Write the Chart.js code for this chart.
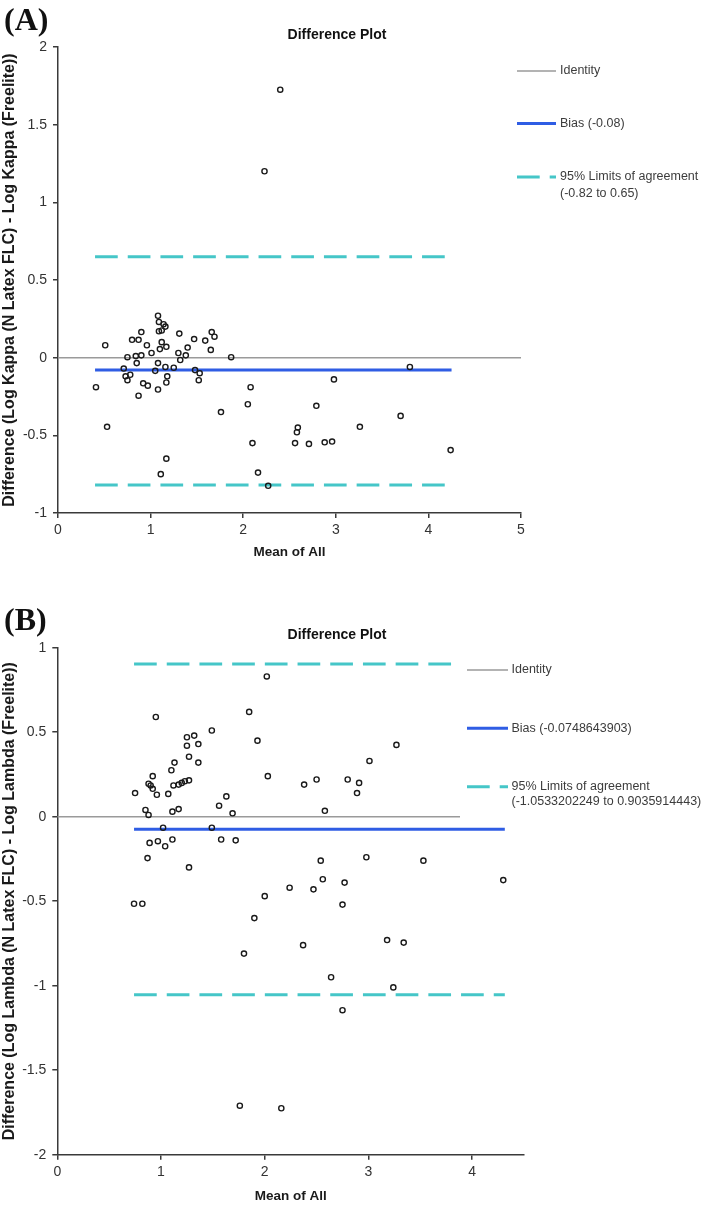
<!DOCTYPE html>
<html lang="en">
<head>
    <meta charset="UTF-8">
    <title>Difference Plots</title>
    <script src="https://cdn.jsdelivr.net/npm/chart.js@4"></script>
    <style>
        body { margin: 0; background: #fff; }
        #wrap { position: relative; width: 709px; height: 1206px; }
        #wrap canvas { position: absolute; left: 0; }
        .tag {
            position: absolute;
            left: 4px;
            font: bold 32px "Liberation Serif", "Times New Roman", serif;
            line-height: 1;
            color: #111;
        }
    </style>
</head>
<body>
<div id="wrap">
    <canvas id="chartA" width="709" height="600" style="top:0"></canvas>
    <canvas id="chartB" width="709" height="606" style="top:600px"></canvas>
    <div class="tag" style="top:3px">(A)</div>
    <div class="tag" style="top:603px">(B)</div>
</div>

<script>
    // ---- panel A : kappa ----
    const kappaMean = [0.51, 0.41, 1.08, 1.09, 1.14, 1.16, 1.12, 1.09, 0.90, 0.80, 0.87, 0.96, 1.12, 1.17, 1.10, 1.01,
        1.31, 1.47, 1.59, 1.66, 1.69, 1.65, 1.40, 1.30, 1.38, 1.32, 0.75, 0.84, 0.90, 0.85, 1.08, 0.71,
        1.05, 1.16, 1.25, 1.48, 1.53, 1.52, 1.18, 1.17, 0.73, 0.78, 0.75, 0.92, 0.97, 1.08, 0.87, 1.87,
        1.76, 2.08, 2.05, 2.79, 2.98, 3.80, 3.70, 2.59, 2.58, 3.26, 0.53, 2.10, 2.56, 2.71, 2.88, 2.96,
        4.24, 1.17, 1.11, 2.16, 2.27, 2.40, 2.23];
    const kappaDiff = [0.08, -0.19, 0.27, 0.23, 0.215, 0.20, 0.175, 0.17, 0.165, 0.115, 0.115, 0.08, 0.10, 0.07, 0.055, 0.03,
        0.155, 0.12, 0.11, 0.165, 0.135, 0.05, 0.065, 0.03, 0.015, -0.015, 0.003, 0.01, 0.015, -0.035, -0.035, -0.07,
        -0.085, -0.06, -0.065, -0.08, -0.10, -0.145, -0.12, -0.16, -0.12, -0.11, -0.145, -0.165, -0.18, -0.205, -0.245, 0.003,
        -0.35, -0.19, -0.30, -0.31, -0.14, -0.06, -0.375, -0.45, -0.48, -0.445, -0.445, -0.55, -0.55, -0.555, -0.545, -0.54,
        -0.595, -0.65, -0.75, -0.74, -0.825, 1.725, 1.20];
    const kappaBias = -0.08;
    const kappaLimits = [-0.82, 0.65];
    const kappaLineSpan = [0.40, 4.25];
    const kappaXRange = [0, 5];
    const kappaYRange = [-1, 2];

    // ---- panel B : lambda ----
    const lambdaMean = [2.02, 1.85, 0.95, 1.93, 1.49, 1.25, 1.32, 1.25, 1.36, 1.27, 1.36, 1.13, 1.10, 0.92, 0.88, 0.90,
        0.92, 0.96, 0.75, 1.07, 1.12, 1.17, 1.20, 1.23, 1.27, 2.03, 2.38, 1.63, 1.56, 1.69, 0.85, 0.88,
        1.11, 1.17, 1.02, 1.49, 0.89, 0.97, 1.04, 1.11, 1.58, 1.72, 0.87, 1.27, 3.27, 3.01, 2.50, 2.80,
        2.91, 2.89, 2.58, 2.54, 2.98, 3.53, 4.30, 2.00, 2.24, 2.47, 2.56, 2.77, 2.75, 1.90, 2.37, 3.18,
        3.34, 2.64, 3.24, 2.75, 1.80, 0.74, 0.82, 1.76, 2.16];
    const lambdaDiff = [0.83, 0.62, 0.59, 0.45, 0.51, 0.47, 0.48, 0.42, 0.43, 0.355, 0.32, 0.32, 0.275, 0.24, 0.195, 0.185,
        0.165, 0.13, 0.14, 0.135, 0.185, 0.19, 0.20, 0.21, 0.215, 0.24, 0.19, 0.12, 0.065, 0.02, 0.04, 0.01,
        0.03, 0.045, -0.065, -0.065, -0.155, -0.145, -0.175, -0.135, -0.135, -0.14, -0.245, -0.30, 0.425, 0.33, 0.22, 0.22,
        0.20, 0.14, 0.035, -0.26, -0.24, -0.26, -0.375, -0.47, -0.42, -0.43, -0.37, -0.39, -0.52, -0.60, -0.76, -0.73,
        -0.745, -0.95, -1.01, -1.145, -0.81, -0.515, -0.515, -1.71, -1.725];
    const lambdaBias = -0.0748643903;
    const lambdaLimits = [-1.0533202249, 0.9035914443];
    const lambdaLineSpan = [0.74, 4.315];
    const lambdaXRange = [0, 4.5];
    const lambdaYRange = [-2, 1];

    const FONT = '"Liberation Sans", Arial, sans-serif';
    const AXIS = '#3a3a3a';

    // white legend box over the plot, then title + legend entries
    const sideLegend = {
        id: 'sideLegend',
        afterDraw(chart, args, o) {
            const ctx = chart.ctx;
            ctx.save();
            ctx.fillStyle = '#fff';
            ctx.fillRect(o.box[0], o.box[1], o.box[2], o.box[3]);

            ctx.textBaseline = 'middle';
            ctx.fillStyle = '#111';
            ctx.textAlign = 'center';
            ctx.font = 'bold 14px ' + FONT;
            ctx.fillText('Difference Plot', o.titleX, o.titleY);

            ctx.textAlign = 'left';
            ctx.font = '12.5px ' + FONT;
            [1, 2, 3].forEach((di, i) => {
                const ds = chart.data.datasets[di];
                const y = o.ys[i];
                ctx.strokeStyle = ds.borderColor;
                ctx.lineWidth = ds.borderWidth;
                ctx.setLineDash(ds.borderDash || []);
                ctx.beginPath();
                ctx.moveTo(o.x0, y);
                ctx.lineTo(o.x1, y);
                ctx.stroke();
                ctx.setLineDash([]);
                ctx.fillStyle = '#3c3c3c';
                ds.label.split('\n').forEach((t, j) => ctx.fillText(t, o.textX, y + j * o.lineGap));
            });
            ctx.restore();
        }
    };

    function hline(y, span) {
        return [{x: span[0], y: y}, {x: span[1], y: y}];
    }

    function makePanel(id, d, box) {
        const pts = d.mean.map((x, i) => ({x: x, y: d.diff[i]}));
        const dash = [22.7, 10];
        const lineDs = {showLine: true, pointRadius: 0, pointHoverRadius: 0, fill: false};
        new Chart(document.getElementById(id), {
            type: 'scatter',
            data: {
                datasets: [
                    {label: 'points', data: pts, pointRadius: 2.6, pointBorderWidth: 1.4,
                        borderColor: '#1a1a1a', backgroundColor: 'rgba(255,255,255,0)'},
                    Object.assign({label: 'Identity', data: hline(0, d.xRange),
                        borderColor: '#9a9a9a', borderWidth: 1.5}, lineDs),
                    Object.assign({label: 'Bias (' + d.bias + ')', data: hline(d.bias, d.lineSpan),
                        borderColor: '#2f5de4', borderWidth: 3}, lineDs),
                    Object.assign({label: '95% Limits of agreement\n(' + d.limits[0] + ' to ' + d.limits[1] + ')',
                        data: hline(d.limits[1], d.lineSpan), borderColor: '#45c6c8', borderWidth: 3, borderDash: dash}, lineDs),
                    Object.assign({label: 'lower', data: hline(d.limits[0], d.lineSpan),
                        borderColor: '#45c6c8', borderWidth: 3, borderDash: dash}, lineDs)
                ]
            },
            options: {
                responsive: false,
                animation: false,
                events: [],
                layout: {autoPadding: false, padding: box.padding},
                plugins: {
                    legend: {display: false},
                    tooltip: {enabled: false},
                    sideLegend: box.legend
                },
                scales: {
                    x: {
                        type: 'linear',
                        min: d.xRange[0],
                        max: d.xRange[1],
                        ticks: {stepSize: 1, padding: 4, color: '#333', font: {family: FONT, size: 14}, maxRotation: 0,
                            callback: v => String(v)},
                        grid: {drawOnChartArea: false, drawTicks: true, tickLength: 5, color: AXIS, lineWidth: 1.5},
                        border: {display: true, color: AXIS, width: 1.5},
                        title: {display: true, text: 'Mean of All', color: '#1a1a1a', padding: 0,
                            font: {family: FONT, size: 13.5, weight: 'bold'}},
                        afterBuildTicks: s => { s.ticks = s.ticks.filter(t => Number.isInteger(t.value)); },
                        afterFit: s => { s.height = box.xHeight; }
                    },
                    y: {
                        type: 'linear',
                        min: d.yRange[0],
                        max: d.yRange[1],
                        ticks: {stepSize: 0.5, padding: 6, color: '#333', font: {family: FONT, size: 14},
                            callback: v => String(v)},
                        grid: {drawOnChartArea: false, drawTicks: true, tickLength: 5, color: AXIS, lineWidth: 1.5},
                        border: {display: true, color: AXIS, width: 1.5},
                        title: {display: true, text: d.yTitle, color: '#1a1a1a', padding: 0,
                            font: {family: FONT, size: 16, weight: 'bold'}},
                        afterFit: s => { s.width = box.yWidth; }
                    }
                }
            },
            plugins: [sideLegend]
        });
    }

    makePanel('chartA', {
        mean: kappaMean, diff: kappaDiff, bias: kappaBias, limits: kappaLimits,
        lineSpan: kappaLineSpan, xRange: kappaXRange, yRange: kappaYRange,
        yTitle: 'Difference (Log Kappa (N Latex FLC) - Log Kappa (Freelite))'
    }, {
        padding: {left: 0, top: 47, right: 188, bottom: 40},
        xHeight: 47, yWidth: 58,
        legend: {box: [523, 47, 186, 160], titleX: 337, titleY: 35,
            x0: 517, x1: 556, textX: 560, ys: [71, 123.5, 177], lineGap: 16.5}
    });

    makePanel('chartB', {
        mean: lambdaMean, diff: lambdaDiff, bias: lambdaBias, limits: lambdaLimits,
        lineSpan: lambdaLineSpan, xRange: lambdaXRange, yRange: lambdaYRange,
        yTitle: 'Difference (Log Lambda (N Latex FLC) - Log Lambda (Freelite))'
    }, {
        padding: {left: 0, top: 47.7, right: 185, bottom: 1.3},
        xHeight: 50, yWidth: 57.3,
        legend: {box: [460, 47, 249, 173], titleX: 337, titleY: 35,
            x0: 467, x1: 508, textX: 511.5, ys: [70, 128.3, 186.7], lineGap: 15}
    });
</script>
</body>
</html>
